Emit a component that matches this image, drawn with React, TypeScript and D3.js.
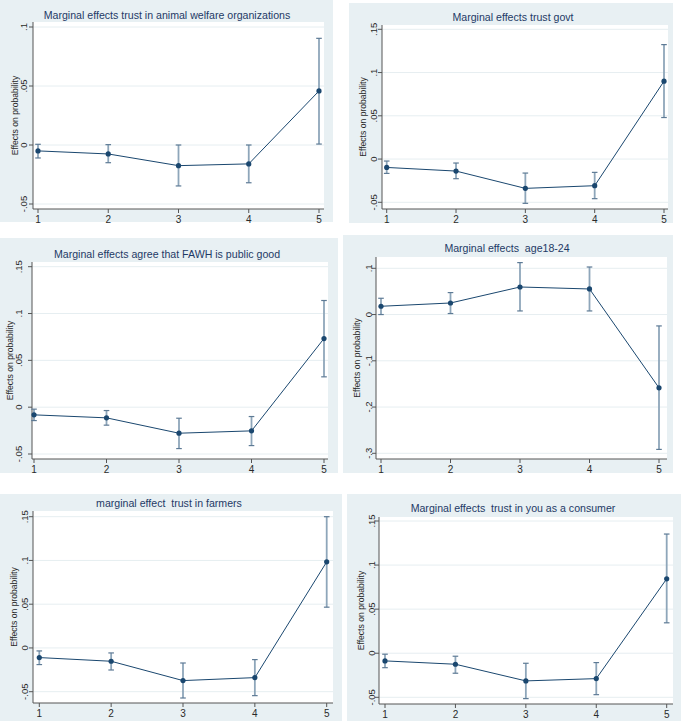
import React from "react";
import * as d3 from "d3";

// ---------- data ----------
const categories = [1, 2, 3, 4, 5];
const xTickLabels = ["1", "2", "3", "4", "5"];

const titles = [
  "Marginal effects trust in animal welfare organizations",
  "Marginal effects trust govt",
  "Marginal effects agree that FAWH is public good",
  "Marginal effects  age18-24",
  "marginal effect  trust in farmers",
  "Marginal effects  trust in you as a consumer",
];
const yAxisTitle = "Effects on probability";

const yTicksA = [-0.05, 0, 0.05, 0.1];
const yTickLabelsA = ["-.05", "0", ".05", ".1"];
const yTicksB = [-0.05, 0, 0.05, 0.1, 0.15];
const yTickLabelsB = ["-.05", "0", ".05", ".1", ".15"];
const yTicksAge = [-0.3, -0.2, -0.1, 0, 0.1];
const yTickLabelsAge = ["-.3", "-.2", "-.1", "0", ".1"];

const orgsEst = [-0.005, -0.0076, -0.0175, -0.016, 0.0458];
const orgsLo = [-0.011, -0.015, -0.0347, -0.032, 0.0008];
const orgsHi = [0.0006, 0.0003, 0.0, 0.0, 0.0904];

const govtEst = [-0.0097, -0.0139, -0.0339, -0.0308, 0.09];
const govtLo = [-0.0166, -0.0227, -0.0512, -0.0458, 0.048];
const govtHi = [-0.0023, -0.0046, -0.0162, -0.0154, 0.1323];

const fawhEst = [-0.0082, -0.0114, -0.0278, -0.0253, 0.0733];
const fawhLo = [-0.0143, -0.0192, -0.0442, -0.041, 0.0324];
const fawhHi = [-0.0021, -0.0036, -0.0118, -0.01, 0.1139];

const ageEst = [0.0179, 0.025, 0.0596, 0.0553, -0.1585];
const ageLo = [0.0, 0.0022, 0.0078, 0.0078, -0.2916];
const ageHi = [0.0352, 0.0475, 0.1123, 0.1028, -0.0246];

const farmEst = [-0.011, -0.0152, -0.0373, -0.0339, 0.0984];
const farmLo = [-0.019, -0.0252, -0.0572, -0.0545, 0.0466];
const farmHi = [-0.0034, -0.0057, -0.0172, -0.0133, 0.15];

const consEst = [-0.0087, -0.0125, -0.0314, -0.0288, 0.0844];
const consLo = [-0.0164, -0.0227, -0.0515, -0.047, 0.0345];
const consHi = [-0.0011, -0.0034, -0.0114, -0.0106, 0.1352];

// ---------- layout (pixels) ----------
type Layout = {
  bg: [number, number, number, number];
  plot: [number, number, number, number];
  xr: [number, number];
  yr: [number, number];
  titleX: number;
  titleY: number;
  ylabX: number;
  tickLabX: number;
};

const layouts: Layout[] = [
  { bg: [0, 0, 333, 222], plot: [33, 22, 324, 209], xr: [38, 319], yr: [204, 27], titleX: 167, titleY: 15, ylabX: 15, tickLabX: 23 },
  { bg: [349, 3, 673, 223], plot: [382, 25, 668, 209], xr: [386.7, 664], yr: [202.3, 29.3], titleX: 513, titleY: 17, ylabX: 363, tickLabX: 373 },
  { bg: [0, 238, 338, 473], plot: [32, 262, 328, 459], xr: [34, 324], yr: [454, 266.7], titleX: 167, titleY: 254, ylabX: 9.5, tickLabX: 18.5 },
  { bg: [343, 235, 673, 473], plot: [376, 257, 667, 459], xr: [381, 659], yr: [453.3, 268.3], titleX: 507, titleY: 248, ylabX: 357, tickLabX: 368 },
  { bg: [0, 494, 342, 721], plot: [33, 511, 333, 703], xr: [39.3, 326.7], yr: [691.7, 516.7], titleX: 169, titleY: 503, ylabX: 14, tickLabX: 24 },
  { bg: [347, 494, 681, 721], plot: [379, 517, 673, 704], xr: [385, 666.7], yr: [697.3, 521], titleX: 513, titleY: 508, ylabX: 361, tickLabX: 371 },
];

const panelsData = [
  { ticks: yTicksA, tickLabels: yTickLabelsA, est: orgsEst, lo: orgsLo, hi: orgsHi },
  { ticks: yTicksB, tickLabels: yTickLabelsB, est: govtEst, lo: govtLo, hi: govtHi },
  { ticks: yTicksB, tickLabels: yTickLabelsB, est: fawhEst, lo: fawhLo, hi: fawhHi },
  { ticks: yTicksAge, tickLabels: yTickLabelsAge, est: ageEst, lo: ageLo, hi: ageHi },
  { ticks: yTicksB, tickLabels: yTickLabelsB, est: farmEst, lo: farmLo, hi: farmHi },
  { ticks: yTicksB, tickLabels: yTickLabelsB, est: consEst, lo: consLo, hi: consHi },
];

const BG = "#e8f0f3";
const NAVY = "#1a476f";
const TITLE_COL = "#1e3a66";
const CI_COL = "#8ea6ba";
const CAP_COL = "#5d7a95";
const GRID = "#e6eef1";
const AXIS = "#555555";
const TXT = "#2a2a2a";
const FONT = "Arial, 'Liberation Sans', Helvetica, sans-serif";

function Panel({ idx }: { idx: number }) {
  const L = layouts[idx];
  const D = panelsData[idx];
  const x = d3.scaleLinear().domain([categories[0], categories[categories.length - 1]]).range(L.xr);
  const y = d3
    .scaleLinear()
    .domain([D.ticks[0], D.ticks[D.ticks.length - 1]])
    .range(L.yr);
  const [px0, py0, px1, py1] = L.plot;
  const [bx0, by0, bx1, by1] = L.bg;
  const line = d3
    .line<number>()
    .x((_, i) => x(categories[i]))
    .y((d) => y(d));
  const capW = 2.8;
  return (
    <g>
      <rect x={bx0} y={by0} width={bx1 - bx0} height={by1 - by0} fill={BG} />
      <rect x={px0} y={py0} width={px1 - px0} height={py1 - py0} fill="#ffffff" />
      <text
        x={L.titleX}
        y={L.titleY}
        textAnchor="middle"
        dominantBaseline="central"
        fontSize={10.6}
        fill={TITLE_COL}
        fontFamily={FONT}
        style={{ whiteSpace: "pre" }}
      >
        {titles[idx]}
      </text>
      {D.ticks.map((t, i) => (
        <line key={"g" + i} x1={px0} x2={px1} y1={y(t)} y2={y(t)} stroke={GRID} strokeWidth={1} />
      ))}
      <line x1={px0} x2={px0} y1={py0} y2={py1} stroke={AXIS} strokeWidth={1} />
      <line x1={px0} x2={px1} y1={py1} y2={py1} stroke={AXIS} strokeWidth={1} />
      {D.ticks.map((t, i) => (
        <g key={"yt" + i}>
          <line x1={px0 - 4} x2={px0} y1={y(t)} y2={y(t)} stroke={AXIS} strokeWidth={1} />
          <text
            transform={`translate(${L.tickLabX},${y(t)}) rotate(-90)`}
            textAnchor="middle"
            dominantBaseline="central"
            fontSize={9.5}
            fill={TXT}
            fontFamily={FONT}
          >
            {D.tickLabels[i]}
          </text>
        </g>
      ))}
      {categories.map((c, i) => (
        <g key={"xt" + i}>
          <line x1={x(c)} x2={x(c)} y1={py1} y2={py1 + 4} stroke={AXIS} strokeWidth={1} />
          <text x={x(c)} y={py1 + 13.5} textAnchor="middle" fontSize={10} fill={TXT} fontFamily={FONT}>
            {xTickLabels[i]}
          </text>
        </g>
      ))}
      <text
        transform={`translate(${L.ylabX},${(py0 + py1) / 2}) rotate(-90)`}
        textAnchor="middle"
        dominantBaseline="central"
        fontSize={8.6}
        fill={TXT}
        fontFamily={FONT}
      >
        {yAxisTitle}
      </text>
      {categories.map((c, i) => (
        <g key={"ci" + i}>
          <line x1={x(c)} x2={x(c)} y1={y(D.lo[i])} y2={y(D.hi[i])} stroke={CI_COL} strokeWidth={1.8} />
          <line x1={x(c) - capW} x2={x(c) + capW} y1={y(D.lo[i])} y2={y(D.lo[i])} stroke={CAP_COL} strokeWidth={1.2} />
          <line x1={x(c) - capW} x2={x(c) + capW} y1={y(D.hi[i])} y2={y(D.hi[i])} stroke={CAP_COL} strokeWidth={1.2} />
        </g>
      ))}
      <path d={line(D.est) || ""} fill="none" stroke={NAVY} strokeWidth={1} />
      {categories.map((c, i) => (
        <circle key={"m" + i} cx={x(c)} cy={y(D.est[i])} r={2.6} fill={NAVY} />
      ))}
    </g>
  );
}

export default function App() {
  return (
    <svg
      width={681}
      height={721}
      style={{ position: "absolute", left: 0, top: 0, background: "#ffffff" }}
    >
      <rect x={0} y={0} width={681} height={721} fill="#ffffff" />
      {layouts.map((_, i) => (
        <Panel key={i} idx={i} />
      ))}
    </svg>
  );
}
